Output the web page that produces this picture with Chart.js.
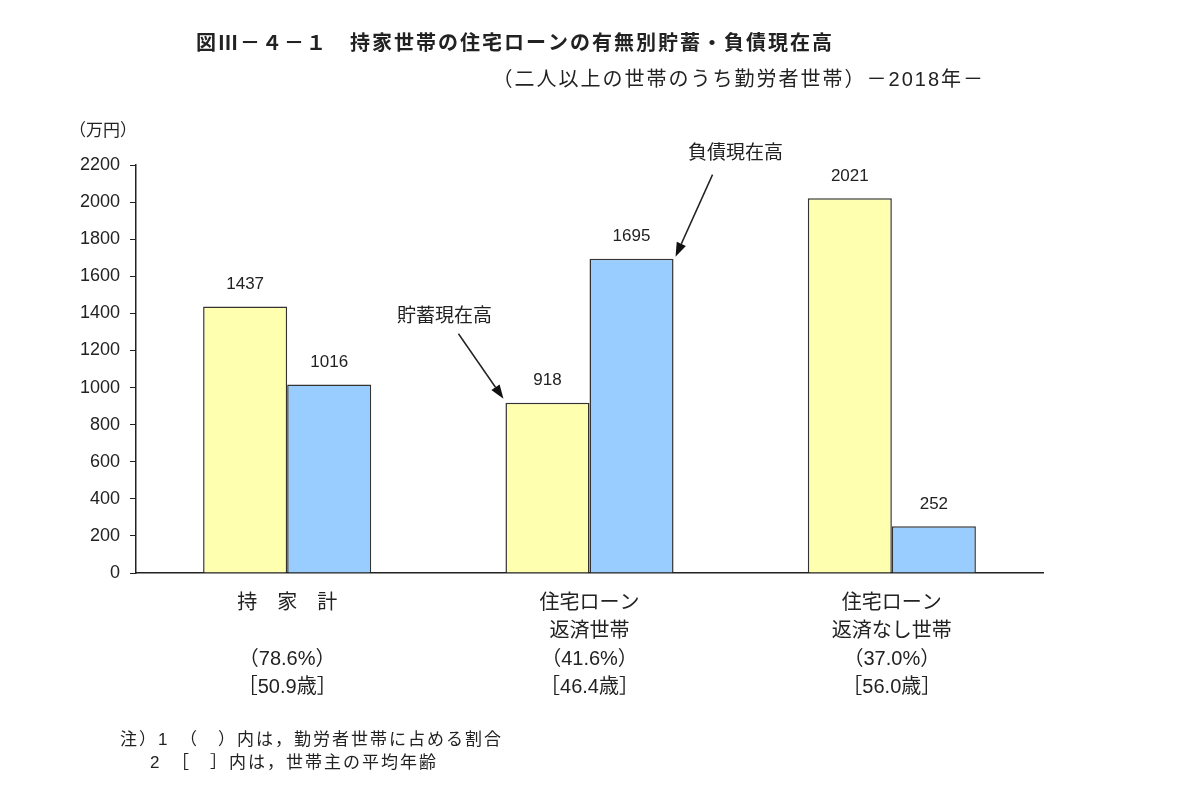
<!DOCTYPE html>
<html lang="ja">
<head>
<meta charset="utf-8">
<title>持家世帯の住宅ローンの有無別貯蓄・負債現在高</title>
<script src="https://cdn.jsdelivr.net/npm/chart.js@4.4.1/dist/chart.umd.min.js"></script>
<style>
  html, body { margin: 0; padding: 0; background: #fff; }
  #wrap { width: 1200px; height: 785px; position: relative; }
</style>
</head>
<body>
<div id="wrap"><canvas id="chartLoan"></canvas></div>
<script>
// カテゴリ（x軸の見出し）
var categories = [['持　家　計', ''], ['住宅ローン', '返済世帯'], ['住宅ローン', '返済なし世帯']];
var shares = ['（78.6%）', '（41.6%）', '（37.0%）'];
var ages = ['［50.9歳］', '［46.4歳］', '［56.0歳］'];

// 系列の値（万円）
var savings = [1437, 918, 2021];
var debts = [1016, 1695, 252];

// y軸の目盛り
var yMax = 2200;
var yStep = 200;

var JP = "'Liberation Sans', 'Noto Sans CJK JP', sans-serif";
var CJK = "'Noto Sans CJK JP', sans-serif";

document.addEventListener('DOMContentLoaded', function() {
    var labels = categories.map(function(c, i) {
        return [c[0], c[1], shares[i], ages[i]];
    });

    // 数値ラベル・注釈・タイトルを描くプラグイン
    var extras = {
        id: 'extras',
        afterDatasetsDraw: function(chart) {
            var ctx = chart.ctx;
            var area = chart.chartArea;
            ctx.save();

            // 棒の上の数値
            ctx.fillStyle = '#222';
            ctx.font = '17px ' + JP;
            ctx.textAlign = 'center';
            ctx.textBaseline = 'middle';
            chart.data.datasets.forEach(function(ds, di) {
                chart.getDatasetMeta(di).data.forEach(function(bar, i) {
                    ctx.fillText(String(ds.data[i]), bar.x, bar.y - 22);
                });
            });

            // 単位
            ctx.font = '17px ' + JP;
            ctx.fillText('（万円）', area.left - 33, area.top - 34);

            // 注釈の矢印
            var sav = chart.getDatasetMeta(0).data[1];
            var debt = chart.getDatasetMeta(1).data[1];
            var tip1 = { x: sav.x - sav.width / 2 - 2, y: sav.y - 4 };
            var tail1 = { x: tip1.x - 45, y: tip1.y - 65 };
            var tip2 = { x: debt.x + debt.width / 2 + 2, y: debt.y - 2 };
            var tail2 = { x: tip2.x + 37, y: tip2.y - 82 };
            drawArrow(ctx, tail1, tip1);
            drawArrow(ctx, tail2, tip2);
            ctx.fillStyle = '#222';
            ctx.font = '19px ' + JP;
            ctx.fillText('貯蓄現在高', tail1.x - 14, tail1.y - 17);
            ctx.fillText('負債現在高', tail2.x + 23, tail2.y - 21);

            // タイトル
            ctx.letterSpacing = '2px';
            ctx.font = 'bold 20px ' + CJK;
            ctx.textAlign = 'center';
            ctx.fillText('図Ⅲ－４－１　持家世帯の住宅ローンの有無別貯蓄・負債現在高', 515, 42);
            ctx.font = '20px ' + JP;
            ctx.textAlign = 'right';
            ctx.fillText('（二人以上の世帯のうち勤労者世帯）－2018年－', 985, 80);

            // 注
            ctx.letterSpacing = '2px';
            ctx.font = '17px ' + JP;
            ctx.textAlign = 'left';
            ctx.fillText('注）1　（　）内は，勤労者世帯に占める割合', 120, 740);
            ctx.fillText('2　［　］内は，世帯主の平均年齢', 150, 763);
            ctx.restore();
        }
    };

    function drawArrow(ctx, from, to) {
        var ang = Math.atan2(to.y - from.y, to.x - from.x);
        var head = 14, half = 5;
        var bx = to.x - head * Math.cos(ang), by = to.y - head * Math.sin(ang);
        ctx.strokeStyle = '#222';
        ctx.fillStyle = '#111';
        ctx.lineWidth = 1.5;
        ctx.beginPath();
        ctx.moveTo(from.x, from.y);
        ctx.lineTo(bx, by);
        ctx.stroke();
        ctx.beginPath();
        ctx.moveTo(to.x, to.y);
        ctx.lineTo(bx + half * Math.sin(ang), by - half * Math.cos(ang));
        ctx.lineTo(bx - half * Math.sin(ang), by + half * Math.cos(ang));
        ctx.closePath();
        ctx.fill();
    }

    var ctxLoan = document.getElementById('chartLoan').getContext('2d');
    new Chart(ctxLoan, {
        type: 'bar',
        data: {
            labels: labels,
            datasets: [{
                label: '貯蓄現在高',
                data: savings,
                backgroundColor: '#ffffb0',
                borderColor: '#333',
                borderWidth: 1.5
            }, {
                label: '負債現在高',
                data: debts,
                backgroundColor: '#99ccff',
                borderColor: '#333',
                borderWidth: 1.5
            }]
        },
        options: {
            responsive: true,
            maintainAspectRatio: false,
            animation: false,
            layout: { padding: { top: 165, left: 20, right: 157, bottom: 0 } },
            plugins: {
                legend: { display: false },
                title: { display: false },
                tooltip: { enabled: false }
            },
            datasets: {
                bar: { categoryPercentage: 0.556, barPercentage: 1.0 }
            },
            scales: {
                x: {
                    afterFit: function(scale) { scale.height = 212; },
                    grid: { display: true, drawOnChartArea: false, drawTicks: false },
                    border: { display: true, color: '#222', width: 1.5 },
                    ticks: {
                        color: '#222',
                        padding: 16,
                        maxRotation: 0,
                        autoSkip: false,
                        font: { family: JP, size: 20, lineHeight: '28px' }
                    }
                },
                y: {
                    min: 0,
                    max: yMax,
                    afterFit: function(scale) { scale.width = 116; },
                    grid: { display: true, drawOnChartArea: false, drawTicks: true, tickLength: 6, color: '#222' },
                    border: { display: true, color: '#222', width: 1.5 },
                    ticks: {
                        stepSize: yStep,
                        color: '#222',
                        padding: 10,
                        font: { family: JP, size: 18 },
                        callback: function(v) { return String(v); }
                    }
                }
            }
        },
        plugins: [extras]
    });
});
</script>
</body>
</html>
